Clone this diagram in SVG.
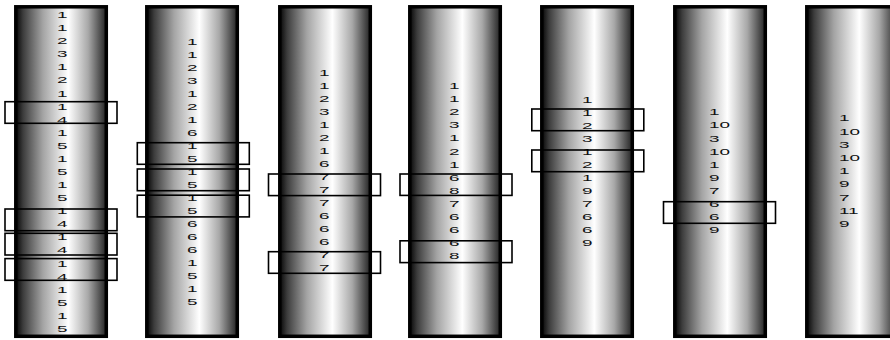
<svg xmlns="http://www.w3.org/2000/svg" width="890" height="340" viewBox="0 0 890 340">
<defs>
<linearGradient id="cyl" x1="0" y1="0" x2="1" y2="0">
<stop offset="0" stop-color="#050505"/>
<stop offset="0.08" stop-color="#3c3c3c"/>
<stop offset="0.3" stop-color="#a4a4a4"/>
<stop offset="0.58" stop-color="#ffffff"/>
<stop offset="0.8" stop-color="#a8a8a8"/>
<stop offset="1" stop-color="#222222"/>
</linearGradient>
</defs>
<style>
.tube{fill:url(#cyl);stroke:#000;stroke-width:3.5}
.num{font-family:"Liberation Sans",Arial,sans-serif;font-size:8.6px;fill:#111}
.hl{fill:none;stroke:#000;stroke-width:1.6}
</style>
<rect width="890" height="340" fill="#fff"/>
<g id="tube1">
<rect class="tube" x="15.8" y="6.8" width="90.5" height="329.5"/>
<g class="num" transform="translate(57 0) scale(2.2 1)">
<text y="18.1">1</text><text y="31.2">1</text><text y="44.3">2</text><text y="57.3">3</text><text y="70.4">1</text><text y="83.5">2</text><text y="96.6">1</text><text y="109.7">1</text><text y="122.7">4</text><text y="135.8">1</text><text y="148.9">5</text><text y="162.0">1</text><text y="175.1">5</text><text y="188.1">1</text><text y="201.2">5</text><text y="214.3">1</text><text y="227.4">4</text><text y="240.5">1</text><text y="253.5">4</text><text y="266.6">1</text><text y="279.7">4</text><text y="292.8">1</text><text y="305.9">5</text><text y="318.9">1</text><text y="332.0">5</text>
</g>
<rect class="hl" x="5" y="101.7" width="112" height="21.6"/>
<rect class="hl" x="5" y="209" width="112" height="21.7"/>
<rect class="hl" x="5" y="233.3" width="112" height="21.7"/>
<rect class="hl" x="5" y="258.6" width="112" height="21.7"/>
</g>
<g id="tube2">
<rect class="tube" x="146.8" y="6.8" width="90.5" height="329.5"/>
<g class="num" transform="translate(187 0) scale(2.2 1)">
<text y="44.8">1</text><text y="57.8">1</text><text y="70.9">2</text><text y="83.9">3</text><text y="96.9">1</text><text y="110.0">2</text><text y="123.0">1</text><text y="136.0">6</text><text y="149.0">1</text><text y="162.1">5</text><text y="175.1">1</text><text y="188.1">5</text><text y="201.2">1</text><text y="214.2">5</text><text y="227.2">6</text><text y="240.3">6</text><text y="253.3">6</text><text y="266.3">1</text><text y="279.3">5</text><text y="292.4">1</text><text y="305.4">5</text>
</g>
<rect class="hl" x="137.3" y="142.7" width="112" height="21.6"/>
<rect class="hl" x="137.3" y="169" width="112" height="21.7"/>
<rect class="hl" x="137.3" y="195.2" width="112" height="21.7"/>
</g>
<g id="tube3">
<rect class="tube" x="279.8" y="6.8" width="90.5" height="329.5"/>
<g class="num" transform="translate(319 0) scale(2.2 1)">
<text y="76.4">1</text><text y="89.4">1</text><text y="102.4">2</text><text y="115.4">3</text><text y="128.4">1</text><text y="141.4">2</text><text y="154.4">1</text><text y="167.4">6</text><text y="180.4">7</text><text y="193.4">7</text><text y="206.4">7</text><text y="219.4">6</text><text y="232.4">6</text><text y="245.4">6</text><text y="258.4">7</text><text y="271.4">7</text>
</g>
<rect class="hl" x="268.5" y="174" width="112" height="21.6"/>
<rect class="hl" x="268.5" y="251.7" width="112" height="21.6"/>
</g>
<g id="tube4">
<rect class="tube" x="409.8" y="6.8" width="90.5" height="329.5"/>
<g class="num" transform="translate(449 0) scale(2.2 1)">
<text y="89.1">1</text><text y="102.2">1</text><text y="115.3">2</text><text y="128.4">3</text><text y="141.5">1</text><text y="154.6">2</text><text y="167.7">1</text><text y="180.8">6</text><text y="193.9">8</text><text y="207.0">7</text><text y="220.1">6</text><text y="233.2">6</text><text y="246.3">6</text><text y="259.4">8</text>
</g>
<rect class="hl" x="400" y="174" width="112" height="21.4"/>
<rect class="hl" x="400" y="240.8" width="112" height="21.8"/>
</g>
<g id="tube5">
<rect class="tube" x="541.8" y="6.8" width="90.5" height="329.5"/>
<g class="num" transform="translate(582 0) scale(2.2 1)">
<text y="103.1">1</text><text y="116.1">1</text><text y="129.2">2</text><text y="142.2">3</text><text y="155.2">1</text><text y="168.3">2</text><text y="181.3">1</text><text y="194.3">9</text><text y="207.3">7</text><text y="220.4">6</text><text y="233.4">6</text><text y="246.4">9</text>
</g>
<rect class="hl" x="531.8" y="109" width="112" height="21.7"/>
<rect class="hl" x="531.8" y="150" width="112" height="21.7"/>
</g>
<g id="tube6">
<rect class="tube" x="674.8" y="6.8" width="90.5" height="329.5"/>
<g class="num" transform="translate(709 0) scale(2.2 1)">
<text y="115.4">1</text><text y="128.5">10</text><text y="141.6">3</text><text y="154.6">10</text><text y="167.7">1</text><text y="180.8">9</text><text y="193.9">7</text><text y="207.0">6</text><text y="220.0">6</text><text y="233.1">9</text>
</g>
<rect class="hl" x="663.5" y="201.7" width="112" height="21.6"/>
</g>
<g id="tube7">
<rect class="tube" x="806.8" y="6.8" width="90.5" height="329.5"/>
<g class="num" transform="translate(839 0) scale(2.2 1)">
<text y="121.4">1</text><text y="134.6">10</text><text y="147.8">3</text><text y="161.0">10</text><text y="174.2">1</text><text y="187.4">9</text><text y="200.6">7</text><text y="213.8">11</text><text y="227.0">9</text>
</g>
</g>
</svg>
